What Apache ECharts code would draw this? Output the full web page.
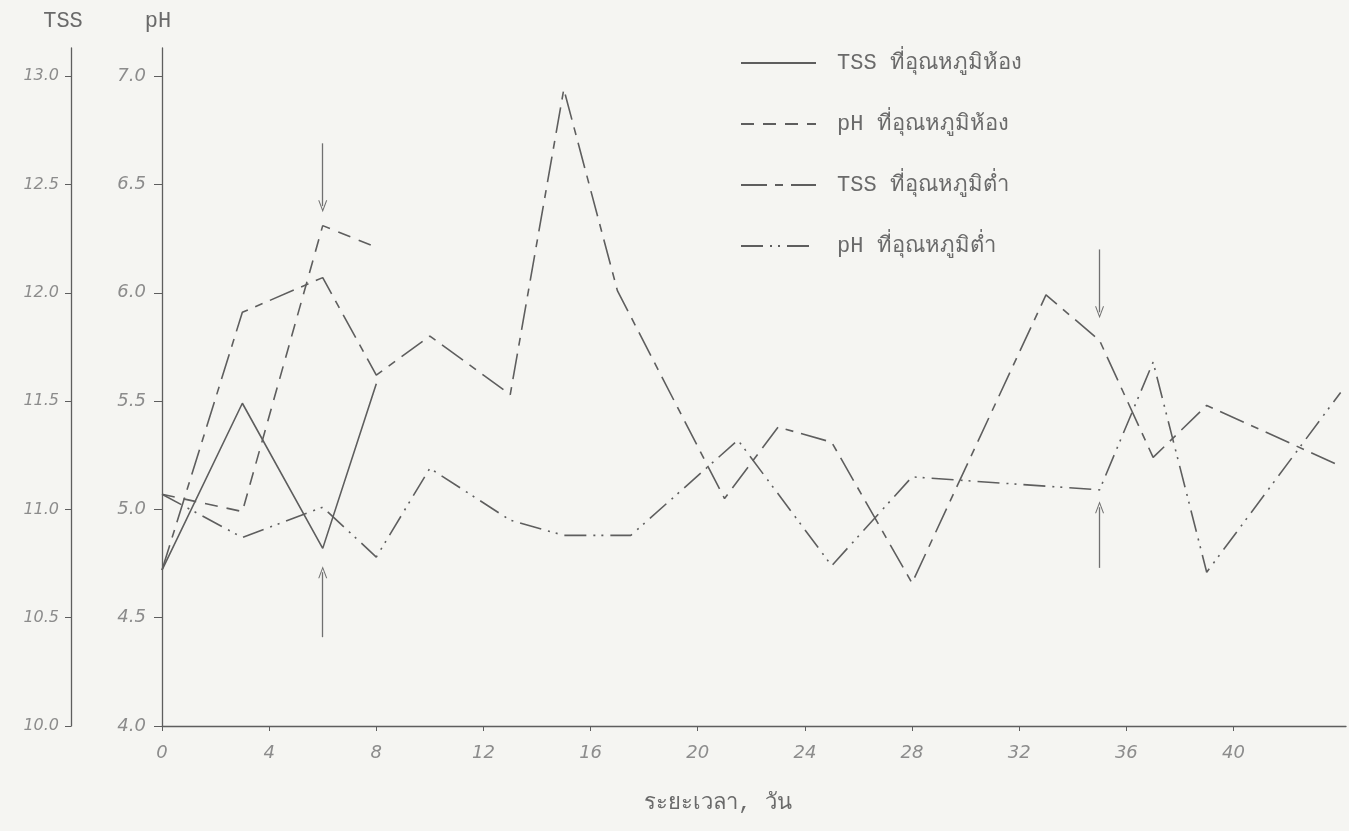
<!DOCTYPE html>
<html>
<head>
<meta charset="utf-8">
<script src="https://cdn.jsdelivr.net/npm/echarts@6/dist/echarts.min.js"></script>
<style>
  html, body { margin: 0; padding: 0; background: #f5f5f2; }
  #chart { width: 1349px; height: 831px; }
</style>
</head>
<body>
<div id="chart"></div>
<script>
// Readings by storage day
const tssRoomDays   = [0, 3, 6, 8];
const tssRoomValues = [10.72, 11.49, 10.82, 11.58];
const phRoomDays    = [0, 3, 6, 8];
const phRoomValues  = [5.07, 4.99, 6.31, 6.21];
const tssLowDays    = [0, 3, 6, 8, 10, 13, 15, 17, 21, 23, 25, 28, 33, 35, 37, 39, 44];
const tssLowValues  = [10.72, 11.91, 12.07, 11.62, 11.80, 11.53, 12.94, 12.01, 11.05, 11.38, 11.31, 10.66, 11.99, 11.78, 11.24, 11.48, 11.20];
const phLowDays     = [0, 3, 6, 8, 10, 13, 15, 17.5, 21.5, 25, 28, 35, 37, 39, 44];
const phLowValues   = [5.07, 4.87, 5.01, 4.78, 5.19, 4.95, 4.88, 4.88, 5.32, 4.74, 5.15, 5.09, 5.68, 4.71, 5.54];

// Axis ticks
const dayTicks = [0, 4, 8, 12, 16, 20, 24, 28, 32, 36, 40];
const tssTicks = [10.0, 10.5, 11.0, 11.5, 12.0, 12.5, 13.0];
const phTicks  = [4.0, 4.5, 5.0, 5.5, 6.0, 6.5, 7.0];

const seriesNames = [
  'TSS ที่อุณหภูมิห้อง',
  'pH ที่อุณหภูมิห้อง',
  'TSS ที่อุณหภูมิต่ำ',
  'pH ที่อุณหภูมิต่ำ'
];
const xTitle = 'ระยะเวลา, วัน';

// Marker arrows (day, start pH, end pH)
const arrowDays = [6, 6, 35, 35];
const arrowFrom = [6.69, 4.41, 6.20, 4.73];
const arrowTo   = [6.40, 4.71, 5.91, 5.01];

const zip = (xs, ys) => xs.map((x, i) => [x, ys[i]]);

const ink = '#5e5e5e';
const pencil = '#8c8c8c';
const typeFont = "'Liberation Mono', 'DejaVu Sans Mono', monospace";
const handFont = "'DejaVu Sans', sans-serif";

const chevron = 'path://M5,0 L10,11 L8.8,11 L5,2.6 L1.2,11 L0,11 Z';

const arrowLines = arrowDays.map((d, i) => [
  { coord: [d, arrowFrom[i]] },
  { coord: [d, arrowTo[i]] }
]);

const chart = echarts.init(document.getElementById('chart'));

chart.setOption({
  backgroundColor: '#f5f5f2',
  animation: false,
  grid: { left: 162, right: 3, top: 48, bottom: 105, containLabel: false },
  legend: {
    orient: 'vertical',
    left: 735,
    top: 46,
    itemWidth: 75,
    itemHeight: 14,
    itemGap: 37,
    selectedMode: false,
    data: seriesNames,
    itemStyle: { opacity: 0 },
    textStyle: {
      fontFamily: typeFont,
      fontSize: 22,
      lineHeight: 24,
      color: '#6a6a6a',
      padding: [0, 0, 0, 16]
    }
  },
  xAxis: {
    type: 'value',
    min: 0,
    max: 44.2,
    interval: 4,
    name: xTitle,
    nameLocation: 'middle',
    nameGap: 66,
    nameTextStyle: {
      fontFamily: typeFont,
      fontSize: 22,
      color: '#6a6a6a',
      padding: [0, 72, 0, 0]
    },
    axisLine: { onZero: false, lineStyle: { color: ink, width: 1.3 } },
    axisTick: { customValues: dayTicks, length: 5, lineStyle: { color: ink } },
    axisLabel: {
      customValues: dayTicks,
      margin: 18,
      fontFamily: handFont,
      fontStyle: 'italic',
      fontSize: 18,
      color: pencil
    },
    splitLine: { show: false }
  },
  yAxis: [
    {
      type: 'value',
      position: 'left',
      offset: 91,
      min: 10,
      max: 13.13,
      name: 'TSS',
      nameLocation: 'end',
      nameGap: 16,
      nameTextStyle: { fontFamily: typeFont, fontSize: 22, color: '#6a6a6a', align: 'center', padding: [0, 16, 0, 0] },
      axisLine: { show: true, onZero: false, lineStyle: { color: ink, width: 1.3 } },
      axisTick: { show: true, customValues: tssTicks, length: 6, lineStyle: { color: ink } },
      axisLabel: {
        customValues: tssTicks,
        margin: 12,
        fontFamily: handFont,
        fontStyle: 'italic',
        fontSize: 16,
        color: pencil,
        formatter: v => v.toFixed(1)
      },
      splitLine: { show: false }
    },
    {
      type: 'value',
      position: 'left',
      offset: 0,
      min: 4,
      max: 7.13,
      name: 'pH',
      nameLocation: 'end',
      nameGap: 16,
      nameTextStyle: { fontFamily: typeFont, fontSize: 22, color: '#6a6a6a', align: 'center', padding: [0, 8, 0, 0] },
      axisLine: { show: true, onZero: false, lineStyle: { color: ink, width: 1.3 } },
      axisTick: { show: true, customValues: phTicks, length: 8, lineStyle: { color: ink } },
      axisLabel: {
        customValues: phTicks,
        margin: 16,
        fontFamily: handFont,
        fontStyle: 'italic',
        fontSize: 18,
        color: pencil,
        formatter: v => v.toFixed(1)
      },
      splitLine: { show: false }
    }
  ],
  series: [
    {
      name: seriesNames[0],
      type: 'line',
      yAxisIndex: 0,
      data: zip(tssRoomDays, tssRoomValues),
      symbol: 'none',
      lineStyle: { color: ink, width: 1.6, type: 'solid' },
      itemStyle: { color: ink }
    },
    {
      name: seriesNames[1],
      type: 'line',
      yAxisIndex: 1,
      data: zip(phRoomDays, phRoomValues),
      symbol: 'none',
      lineStyle: { color: ink, width: 1.6, type: [13, 9] },
      itemStyle: { color: ink }
    },
    {
      name: seriesNames[2],
      type: 'line',
      yAxisIndex: 0,
      data: zip(tssLowDays, tssLowValues),
      symbol: 'none',
      lineStyle: { color: ink, width: 1.6, type: [26, 8, 8, 8] },
      itemStyle: { color: ink }
    },
    {
      name: seriesNames[3],
      type: 'line',
      yAxisIndex: 1,
      data: zip(phLowDays, phLowValues),
      symbol: 'none',
      lineStyle: { color: ink, width: 1.6, type: [22, 7, 2, 6, 2, 7] },
      itemStyle: { color: ink },
      markLine: {
        silent: true,
        animation: false,
        symbol: ['none', chevron],
        symbolSize: [9, 12],
        label: { show: false },
        lineStyle: { color: '#707070', width: 1.3, type: 'solid' },
        data: arrowLines
      }
    }
  ]
});
</script>
</body>
</html>
